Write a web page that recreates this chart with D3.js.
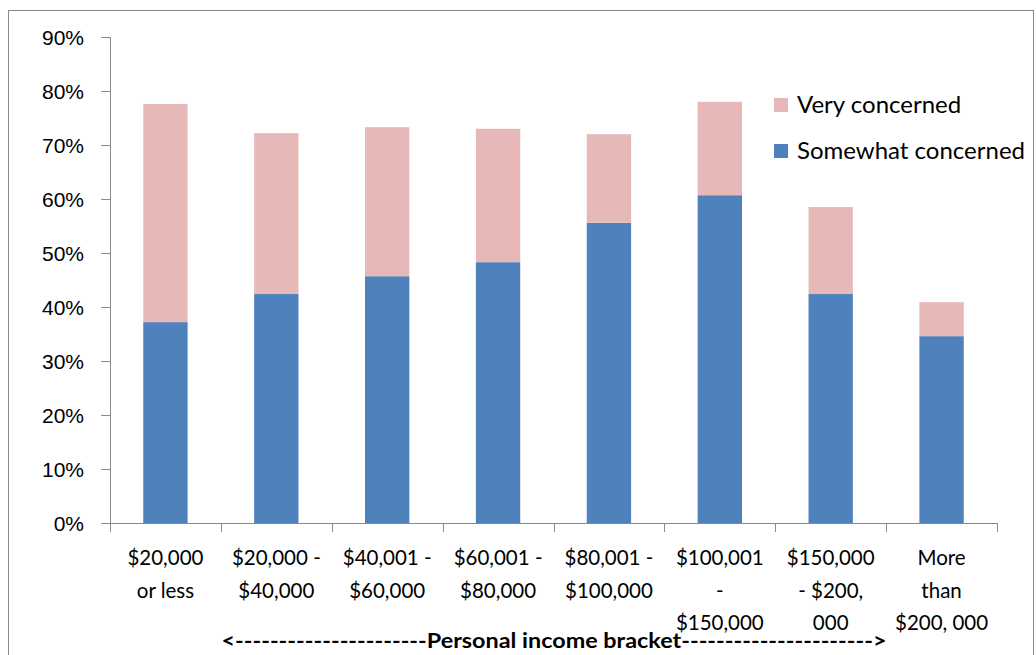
<!DOCTYPE html>
<html>
<head>
<meta charset="utf-8">
<script src="https://cdn.jsdelivr.net/npm/d3@7"></script>
<style>
  body { margin: 0; background: #fff; }
  svg { font-family: Lato, "Open Sans", sans-serif; }
</style>
</head>
<body>
<div id="chart"></div>
<script>
const categories = [
  ["$20,000", "or less"],
  ["$20,000 -", "$40,000"],
  ["$40,001 -", "$60,000"],
  ["$60,001 -", "$80,000"],
  ["$80,001 -", "$100,000"],
  ["$100,001", "-", "$150,000"],
  ["$150,000", "- $200,", "000"],
  ["More", "than", "$200, 000"]
];
const somewhat = [37.2, 42.4, 45.7, 48.3, 55.6, 60.7, 42.4, 34.6];
const very = [40.4, 29.8, 27.6, 24.7, 16.4, 17.3, 16.1, 6.3];
const yTicks = [0, 10, 20, 30, 40, 50, 60, 70, 80, 90];
const seriesNames = ["Very concerned", "Somewhat concerned"];
const colors = { "Somewhat concerned": "#4F81BD", "Very concerned": "#E6B9B8" };

const W = 1036, H = 655;
const margin = { top: 37, right: 39, bottom: 132, left: 110 };
const width = W - margin.left - margin.right;
const height = H - margin.top - margin.bottom;

const svg = d3.select('#chart').append('svg')
  .attr('width', W).attr('height', H);

// outer frame
svg.append('rect')
  .attr('x', 8.5).attr('y', 10.5)
  .attr('width', 1025).attr('height', 660)
  .attr('fill', 'none').attr('stroke', '#898989').attr('stroke-width', 1);

const g = svg.append('g').attr('transform', `translate(${margin.left},${margin.top})`);

const x = d3.scaleBand().domain(d3.range(categories.length)).range([0, width]).paddingInner(0.6).paddingOuter(0.3);
const xAxisScale = d3.scaleLinear().domain([0, categories.length]).range([0, width]);
const y = d3.scaleLinear().domain([0, 90]).range([height, 0]);

const rows = categories.map((c, i) => ({ i, somewhat: somewhat[i], very: very[i] }));
const stack = d3.stack().keys(['somewhat', 'very'])(rows);
const keyColor = { somewhat: colors["Somewhat concerned"], very: colors["Very concerned"] };

g.selectAll('.layer').data(stack).join('g')
  .attr('fill', d => keyColor[d.key])
  .selectAll('rect').data(d => d).join('rect')
  .attr('x', d => x(d.data.i))
  .attr('width', x.bandwidth())
  .attr('y', d => y(d[1]))
  .attr('height', d => y(d[0]) - y(d[1]));

// y axis
const yAxis = g.append('g')
  .call(d3.axisLeft(y).tickValues(yTicks).tickFormat(d => d + '%').tickSize(9).tickSizeOuter(9));
yAxis.select('.domain').attr('stroke', '#898989').attr('d', `M-9,0.5H0.5V${height}`);
yAxis.selectAll('.tick line').attr('stroke', '#898989');
yAxis.selectAll('.tick text').attr('x', -26).attr('dy', '0.35em')
  .attr('font-size', 21).attr('fill', '#000');

// x axis with ticks at band boundaries
const xAxis = g.append('g').attr('transform', `translate(0,${height})`);
xAxis.append('line').attr('x1', 0).attr('x2', width).attr('y1', 0.5).attr('y2', 0.5)
  .attr('stroke', '#898989');
xAxis.selectAll('.xt').data(d3.range(categories.length + 1)).join('line')
  .attr('x1', d => Math.round(xAxisScale(d)) + 0.5)
  .attr('x2', d => Math.round(xAxisScale(d)) + 0.5)
  .attr('y1', 0).attr('y2', 9).attr('stroke', '#898989');

const labels = xAxis.selectAll('.xl').data(categories).join('text')
  .attr('text-anchor', 'middle')
  .attr('font-size', 20.5).attr('fill', '#000')
  .attr('transform', (d, i) => `translate(${x(i) + x.bandwidth() / 2},42)`);
labels.selectAll('tspan').data(d => d).join('tspan')
  .attr('x', 0).attr('y', (d, j) => j * 32.5)
  .text(d => d);

// axis title
svg.append('text')
  .attr('x', 554).attr('y', 648)
  .attr('text-anchor', 'middle')
  .attr('font-size', 20).attr('font-weight', 'bold')
  .attr('textLength', 665).attr('lengthAdjust', 'spacingAndGlyphs')
  .text('<----------------------Personal income bracket---------------------->');

// legend
const legend = svg.append('g').attr('transform', 'translate(774,98)');
legend.selectAll('g').data(seriesNames).join('g')
  .attr('transform', (d, i) => `translate(0,${i * 46})`)
  .each(function (d) {
    const s = d3.select(this);
    s.append('rect').attr('width', 14).attr('height', 14).attr('fill', colors[d]);
    s.append('text').attr('x', 23).attr('y', 7).attr('dy', '0.35em')
      .attr('font-size', 24).attr('fill', '#000').text(d);
  });
</script>
</body>
</html>
